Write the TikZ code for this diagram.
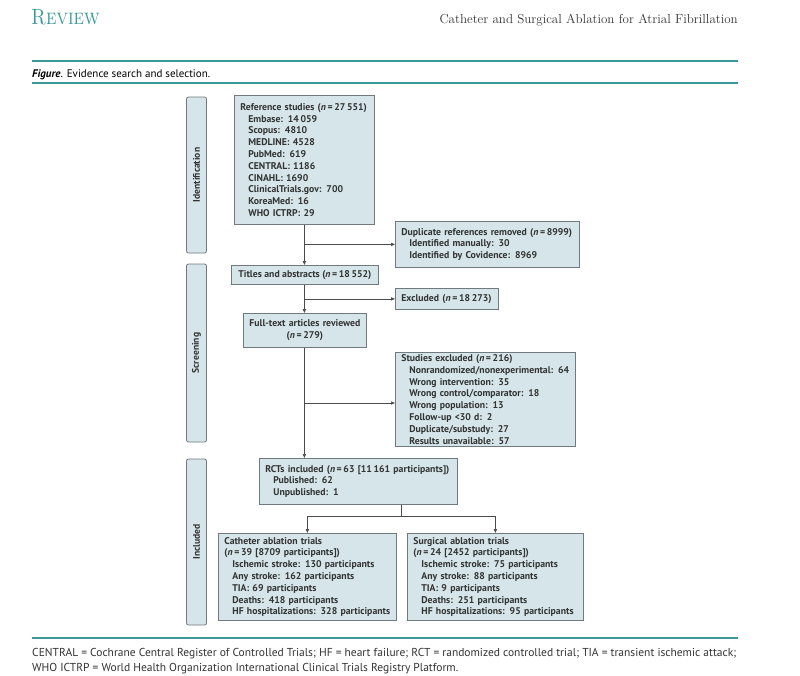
\documentclass[tikz,border=0pt]{standalone}
\usepackage{fontspec}
\newfontfamily\bxf{PT Sans}
\usetikzlibrary{arrows.meta}
\definecolor{boxfill}{HTML}{D5E5E9}
\definecolor{boxedge}{HTML}{707A7E}
\definecolor{tealc}{HTML}{3A9A9A}
\definecolor{linec}{HTML}{4A4A4A}
\definecolor{txtc}{HTML}{333333}
\begin{document}
\begin{tikzpicture}[x=1pt,y=-1pt,
  box/.style={draw=boxedge, fill=boxfill, line width=0.8pt, inner xsep=6pt, inner ysep=2pt,
    font=\bxf\bfseries\fontsize{9.75}{11.8}\selectfont, text=txtc, anchor=north west},
  sidebox/.style={draw=boxedge, fill=boxfill, line width=0.8pt, rounded corners=2pt, rotate=90,
    font=\bxf\bfseries\fontsize{9.6}{10}\selectfont, text=txtc, inner sep=0pt},
  conn/.style={draw=linec, line width=0.7pt},
  arr/.style={conn, -{Triangle[length=4pt,width=3.2pt]}},
  rule/.style={draw=tealc, line width=1.6pt}]
\useasboundingbox (0,0) rectangle (800,675);
\fill[white] (0,0) rectangle (800,675);
% header
\node[anchor=base west, text=tealc, inner sep=0pt, font=\fontsize{22}{22}\selectfont\scshape] (rev) at (31,24) {\scalebox{0.85}[1]{Review}};
\node[anchor=base east, text=txtc, inner sep=0pt, font=\fontsize{13}{13}\selectfont] (ttl) at (738,23) {Catheter and Surgical Ablation for Atrial Fibrillation};
\draw[rule] (32,61) -- (738,61);
\node[anchor=base west, inner sep=0pt, text=black, font=\bxf\fontsize{11}{11}\selectfont] (cap) at (32,77) {\textbf{\textit{Figure}}. Evidence search and selection.};
\draw[rule] (32,83) -- (738,83);
% side labels
\node[sidebox, minimum width=156pt, minimum height=20pt] (sid) at (196.5,175) {Identification};
\node[sidebox, minimum width=178pt, minimum height=20pt] (sscr) at (196.5,353) {Screening};
\node[sidebox, minimum width=166pt, minimum height=20pt] (sinc) at (196.5,542) {Included};
% boxes
\node[box, text width=128pt, minimum height=129pt, align=left] (ref) at (234,95) {%
Reference studies (\textit{n}\,=\,27\,551)\\
\hspace*{8pt}Embase: 14\,059\\
\hspace*{8pt}Scopus: 4810\\
\hspace*{8pt}MEDLINE: 4528\\
\hspace*{8pt}PubMed: 619\\
\hspace*{8pt}CENTRAL: 1186\\
\hspace*{8pt}CINAHL: 1690\\
\hspace*{8pt}ClinicalTrials.gov: 700\\
\hspace*{8pt}KoreaMed: 16\\
\hspace*{8pt}WHO ICTRP: 29};
\node[box, text width=172pt, minimum height=46pt, align=left] (dup) at (395,221) {%
Duplicate references removed (\textit{n}\,=\,8999)\\
\hspace*{8pt}Identified manually: 30\\
\hspace*{8pt}Identified by Covidence: 8969};
\node[box, minimum width=147pt, inner xsep=2pt, minimum height=19pt, align=center] (tit) at (231,265) {Titles and abstracts (\textit{n}\,=\,18\,552)};
\node[box, text width=91pt, minimum height=21pt, align=left] (exc) at (395,288) {Excluded (\textit{n}\,=\,18\,273)};
\node[box, text width=111pt, minimum height=34pt, align=center] (full) at (243,313) {Full-text articles reviewed\\(\textit{n}\,=\,279)};
\node[box, text width=168pt, minimum height=94pt, align=left] (sexc) at (395,352) {%
Studies excluded (\textit{n}\,=\,216)\\
\hspace*{8pt}Nonrandomized/nonexperimental: 64\\
\hspace*{8pt}Wrong intervention: 35\\
\hspace*{8pt}Wrong control/comparator: 18\\
\hspace*{8pt}Wrong population: 13\\
\hspace*{8pt}Follow-up <30 d: 2\\
\hspace*{8pt}Duplicate/substudy: 27\\
\hspace*{8pt}Results unavailable: 57};
\node[box, text width=186pt, minimum height=46pt, align=left] (rct) at (259,458) {%
RCTs included (\textit{n}\,=\,63 [11\,161 participants])\\
\hspace*{8pt}Published: 62\\
\hspace*{8pt}Unpublished: 1};
\node[box, text width=166pt, minimum height=87pt, align=left] (cath) at (218,533) {%
Catheter ablation trials\\
(\textit{n}\,=\,39 [8709 participants])\\
\hspace*{8pt}Ischemic stroke: 130 participants\\
\hspace*{8pt}Any stroke: 162 participants\\
\hspace*{8pt}TIA: 69 participants\\
\hspace*{8pt}Deaths: 418 participants\\
\hspace*{8pt}HF hospitalizations: 328 participants};
\node[box, text width=164pt, minimum height=87pt, align=left] (surg) at (407,533) {%
Surgical ablation trials\\
(\textit{n}\,=\,24 [2452 participants])\\
\hspace*{8pt}Ischemic stroke: 75 participants\\
\hspace*{8pt}Any stroke: 88 participants\\
\hspace*{8pt}TIA: 9 participants\\
\hspace*{8pt}Deaths: 251 participants\\
\hspace*{8pt}HF hospitalizations: 95 participants};
% connectors
\draw[arr] (ref.south) -- (ref.south |- tit.north);
\coordinate (b1) at (ref.south |- dup.west);
\draw[arr] (b1) -- (dup.west);
\draw[arr] (ref.south |- tit.south) -- (ref.south |- full.north);
\coordinate (b2) at (ref.south |- exc.west);
\draw[arr] (b2) -- (exc.west);
\draw[arr] (ref.south |- full.south) -- (ref.south |- rct.north);
\coordinate (b3) at (304,403);
\draw[arr] (b3) -- (sexc.west |- b3);
\coordinate (r1) at (401,516);
\draw[conn] (r1 |- rct.south) -- (r1);
\draw[conn] (cath.north |- r1) -- (surg.north |- r1);
\draw[arr] (cath.north |- r1) -- (cath.north);
\draw[arr] (surg.north |- r1) -- (surg.north);
% footer
\draw[rule] (32,638) -- (738,638);
\node[anchor=base west, inner sep=0pt, text=txtc, font=\bxf\fontsize{11.5}{11.5}\selectfont] (fn1) at (32,656) {CENTRAL = Cochrane Central Register of Controlled Trials; HF = heart failure; RCT = randomized controlled trial; TIA = transient ischemic attack;};
\node[anchor=base west, inner sep=0pt, text=txtc, font=\bxf\fontsize{11.5}{11.5}\selectfont] (fn2) at (32,671) {WHO ICTRP = World Health Organization International Clinical Trials Registry Platform.};
\end{tikzpicture}
\end{document}
